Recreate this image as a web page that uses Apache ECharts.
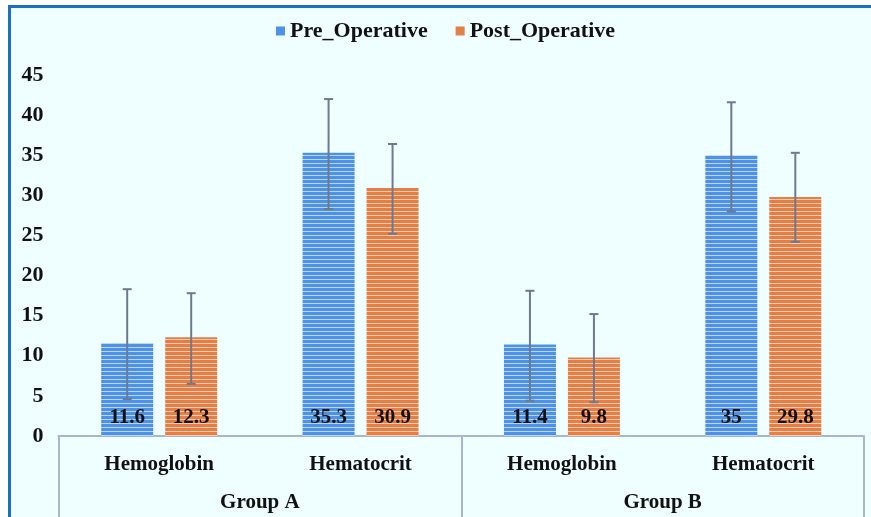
<!DOCTYPE html>
<html><head><meta charset="utf-8">
<script src="https://cdn.jsdelivr.net/npm/echarts@6/dist/echarts.min.js"></script>
<style>
html,body{margin:0;padding:0;background:#fff;width:871px;height:517px;overflow:hidden}
#frame{position:absolute;left:8px;top:5px;width:863px;height:512px;border-left:3px solid #1a6fc6;border-top:3px solid #1a6fc6;box-sizing:border-box;background:#effefe}
#chart{position:absolute;left:11px;top:8px;width:860px;height:509px}
</style></head>
<body>
<div id="frame"></div>
<div id="chart"></div>
<script>
const categories = ['Hemoglobin', 'Hematocrit', 'Hemoglobin', 'Hematocrit'];
const groups = ['Group A', 'Group B'];
const seriesNames = ['Pre_Operative', 'Post_Operative'];
const preValues = [11.6, 35.3, 11.4, 35];
const postValues = [12.3, 30.9, 9.8, 29.8];
const preLower = [4.6, 28.3, 4.4, 28.0];
const preUpper = [18.3, 42.0, 18.1, 41.6];
const postLower = [6.5, 25.2, 4.2, 24.2];
const postUpper = [17.8, 36.4, 15.2, 35.3];
const yTicks = {min: 0, max: 45, interval: 5};

function stripe(main, light) {
  const c = document.createElement('canvas');
  c.width = 4; c.height = 4;
  const ctx = c.getContext('2d');
  ctx.fillStyle = main; ctx.fillRect(0, 0, 4, 4);
  ctx.fillStyle = light; ctx.fillRect(0, 3, 4, 1);
  return {image: c, repeat: 'repeat'};
}
const blueFill = stripe('#4d92e6', '#b9d6f6');
const orangeFill = stripe('#e67e45', '#f6cdb0');
const serif = '"Liberation Serif", "Times New Roman", serif';

const chart = echarts.init(document.getElementById('chart'), null, {renderer: 'canvas'});

function errSeries(lower, upper, offset) {
  return {
    type: 'custom',
    xAxisIndex: 0,
    z: 10,
    silent: true,
    data: lower.map((l, i) => [i, l, upper[i]]),
    renderItem: function (params, api) {
      const lo = api.coord([api.value(0), api.value(1)]);
      const hi = api.coord([api.value(0), api.value(2)]);
      const x = lo[0] + offset;
      const half = 4.5;
      const st = {stroke: '#6b7a90', lineWidth: 2};
      return {type: 'group', children: [
        {type: 'line', shape: {x1: x, y1: lo[1], x2: x, y2: hi[1]}, style: st},
        {type: 'line', shape: {x1: x - half, y1: lo[1], x2: x + half, y2: lo[1]}, style: st},
        {type: 'line', shape: {x1: x - half, y1: hi[1], x2: x + half, y2: hi[1]}, style: st}
      ]};
    }
  };
}

const labelStyle = {
  show: true, position: 'insideBottom', distance: 8,
  fontFamily: serif, fontWeight: 'bold', fontSize: 21, color: '#111'
};

chart.setOption({
  backgroundColor: 'transparent',
  animation: false,
  legend: {
    top: 7, left: 260,
    itemWidth: 9, itemHeight: 9, itemGap: 28,
    icon: 'rect',
    textStyle: {fontFamily: serif, fontWeight: 'bold', fontSize: 22, color: '#111'},
    data: [
      {name: seriesNames[0], itemStyle: {color: '#4d92e6'}},
      {name: seriesNames[1], itemStyle: {color: '#e67e45'}}
    ]
  },
  grid: {left: 47.5, right: 7, top: 67, bottom: 81},
  xAxis: [
    {
      type: 'category', data: categories, position: 'bottom',
      axisLine: {show: true, lineStyle: {color: '#a9b5cc', width: 2}},
      axisTick: {show: false},
      axisLabel: {margin: 18, fontFamily: serif, fontWeight: 'bold', fontSize: 21, color: '#111'}
    },
    {
      type: 'category', data: groups, position: 'bottom',
      axisLine: {show: false},
      axisTick: {show: true, length: 90, lineStyle: {color: '#a9b5cc', width: 2}},
      axisLabel: {margin: 56, fontFamily: serif, fontWeight: 'bold', fontSize: 21, color: '#111'}
    }
  ],
  yAxis: {
    type: 'value', min: yTicks.min, max: yTicks.max, interval: yTicks.interval,
    axisLine: {show: false}, axisTick: {show: false}, splitLine: {show: false},
    axisLabel: {margin: 15, fontFamily: serif, fontWeight: 'bold', fontSize: 22, color: '#111'}
  },
  series: [
    {name: seriesNames[0], type: 'bar', xAxisIndex: 0, data: preValues, barWidth: 52, barGap: '23%',
     itemStyle: {color: blueFill}, label: labelStyle},
    {name: seriesNames[1], type: 'bar', xAxisIndex: 0, data: postValues, barWidth: 52, barGap: '23%',
     itemStyle: {color: orangeFill}, label: labelStyle},
    errSeries(preLower, preUpper, -32),
    errSeries(postLower, postUpper, 32)
  ]
});
</script>
</body></html>
